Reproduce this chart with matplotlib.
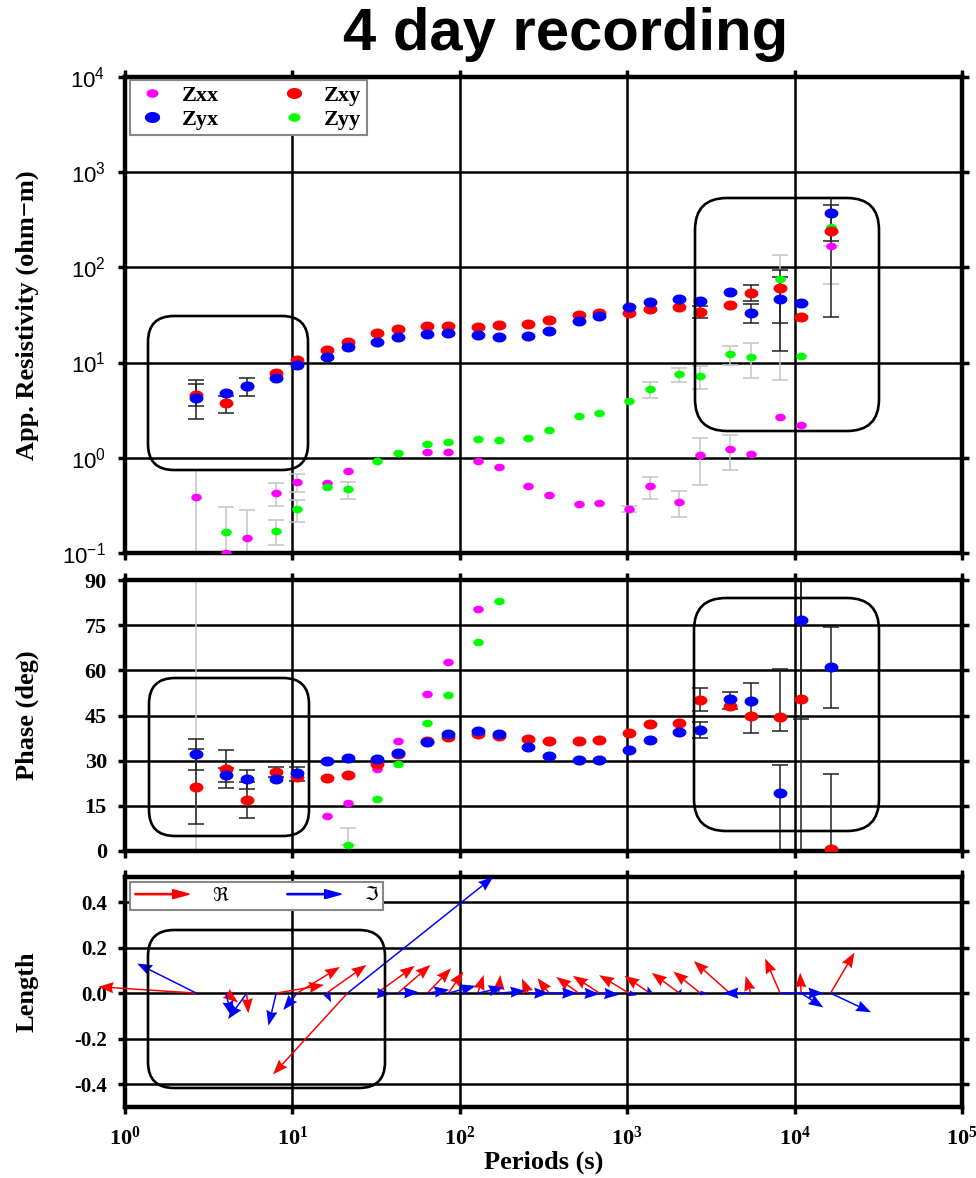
import numpy as np
import matplotlib
matplotlib.use('Agg')
import matplotlib.pyplot as plt
from matplotlib.patches import FancyBboxPatch, FancyArrow
from matplotlib.legend_handler import HandlerBase
from matplotlib.lines import Line2D
from matplotlib.transforms import IdentityTransform
from matplotlib.ticker import FixedLocator, FixedFormatter, NullLocator

N = np.nan

# ---------------- data ----------------
periods = [2.667, 4, 5.333, 8, 10.667, 16, 21.333, 32, 42.667, 64, 85.333, 128,
           170.667, 256, 341.333, 512, 682.667, 1024, 1365.333, 2048, 2730.667,
           4096, 5461.333, 8192, 10922.667, 16384]

# apparent resistivity (ohm-m)
rho_xx = [0.39, 0.10, 0.143, 0.425, 0.556, 0.542, 0.73, N, N, 1.15, 1.16, 0.915, 0.80,
          0.508, 0.406, 0.323, 0.331, 0.289, 0.50, 0.347, 1.075, 1.25, 1.10, 2.68, 2.22, 166]
rho_xy = [4.59, 3.76, 5.66, 7.76, 10.7, 13.4, 16.4, 20.4, 22.5, 24.0, 24.2, 23.4, 24.9,
          25.7, 27.7, 31.2, 32.8, 33.3, 36.1, 38.6, 33.6, 40.2, 54.1, 60.0, 29.8, 240]
rho_yx = [4.2, 4.78, 5.66, 6.87, 9.5, 11.4, 14.4, 16.4, 18.5, 19.9, 20.4, 19.3, 18.7,
          18.8, 21.6, 27.3, 31.0, 37.9, 43.2, 46.0, 44.6, 55.4, 33.1, 46.8, 41.8, 372]
rho_yy = [N, 0.168, N, 0.172, 0.289, 0.49, 0.469, 0.93, 1.11, 1.40, 1.46, 1.57, 1.53,
          1.63, 1.98, 2.72, 2.95, 3.94, 5.27, 7.57, 7.21, 12.3, 11.4, 75.4, 11.6, 263]

# resistivity error limits (lower, upper)
rho_xy_lo = [3.46, 2.92, 4.5, N, N, N, N, N, N, N, N, N, N, N, N, N, N, N, N, N, 29.3, N, 43.8, 26.0, N, 30.0]
rho_xy_hi = [6.5, 4.5, 6.8, N, N, N, N, N, N, N, N, N, N, N, N, N, N, N, N, N, 38.8, N, 65.2, 94.4, N, 455]
rho_yx_lo = [2.58, N, N, N, N, N, N, N, N, N, N, N, N, N, N, N, N, N, N, N, N, N, 26.0, 13.1, N, 191]
rho_yx_hi = [6.0, N, N, N, N, N, N, N, N, N, N, N, N, N, N, N, N, N, N, N, N, N, 41.5, 80.0, N, 536]
rho_xx_lo = [0.02, N, 0.02, 0.31, 0.44, N, N, N, N, N, N, N, N, N, N, N, N, 0.27, 0.37, 0.24, 0.52, 0.74, N, N, N, 66.6]
rho_xx_hi = [0.735, N, 0.28, 0.54, 0.68, N, N, N, N, N, N, N, N, N, N, N, N, 0.31, 0.63, 0.45, 1.63, 1.73, N, N, N, 166]
rho_yy_lo = [N, 0.02, N, 0.12, 0.21, N, 0.37, N, N, N, N, N, N, N, N, N, N, N, 4.2, 6.3, 5.3, 9.5, 6.9, 6.6, N, N]
rho_yy_hi = [N, 0.303, N, 0.223, 0.36, N, 0.56, N, N, N, N, N, N, N, N, N, N, N, 6.3, 8.7, 9.1, 15.1, 16.0, 135, N, N]

# phase (deg)
phi_xx = [-20, N, N, N, N, 11.6, 16.1, 27.1, 36.5, 52.2, 62.9, 80.3, N,
          N, N, N, N, N, N, N, N, N, N, N, N, N]
phi_xy = [21.4, 27.2, 17.0, 26.3, 24.7, 24.4, 25.4, 28.9, 32.1, 36.5, 37.9, 39.0, 38.3,
          37.3, 36.7, 36.6, 37.0, 39.3, 42.2, 42.4, 50.2, 48.0, 44.9, 44.5, 50.5, 0.5]
phi_yx = [32.1, 25.2, 23.8, 23.8, 25.8, 29.9, 30.8, 30.6, 32.7, 36.3, 39.0, 40.0, 38.7,
          34.4, 31.5, 30.2, 30.2, 33.4, 36.9, 39.4, 40.2, 50.5, 49.8, 19.2, 76.6, 61.2]
phi_yy = [N, N, N, N, N, N, 2.0, 17.4, 28.9, 42.5, 51.8, 69.4, 82.9,
          N, N, N, N, N, N, N, N, N, N, N, N, N]

phi_xy_lo = [9.0, 21.0, 11.0, 24.5, N, N, N, N, N, N, N, N, N, N, N, N, N, N, N, N, 46.4, N, 39.1, 39.7, 43.9, -30]
phi_xy_hi = [33.8, 33.5, 23.0, 28.0, N, N, N, N, N, N, N, N, N, N, N, N, N, N, N, N, 54.0, N, 55.9, 60.6, 120, 25.6]
phi_yx_lo = [26.9, 23.0, 20.7, N, 23.2, N, N, N, N, N, N, N, N, N, N, N, N, N, N, N, 37.6, 47.0, N, -30, -30, 47.6]
phi_yx_hi = [37.2, 27.5, 26.9, N, 28.0, N, N, N, N, N, N, N, N, N, N, N, N, N, N, N, 42.7, 52.9, N, 28.5, 120, 74.5]
phi_xx_lo = [-120, N, N, N, N, N, N, N, N, N, N, N, N, N, N, N, N, N, N, N, N, N, N, N, N, N]
phi_xx_hi = [200, N, N, N, N, N, N, N, N, N, N, N, N, N, N, N, N, N, N, N, N, N, N, N, N, N]
phi_yy_lo = [N, N, N, N, N, N, 2.0, N, N, N, N, N, N, N, N, N, N, N, N, N, N, N, N, N, N, N]
phi_yy_hi = [N, N, N, N, N, N, 7.7, N, N, N, N, N, N, N, N, N, N, N, N, N, N, N, N, N, N, N]

# induction arrows (real and imaginary components)
re_x = [-0.43, 0.054, 0.007, 0.21, 0.188, 0.175, -0.327, 0.166, 0.143, 0.104, 0.066, 0.026, 0.007,
        -0.027, -0.051, -0.098, -0.117, -0.131, -0.112, -0.121, -0.118, -0.158, -0.022, -0.066, -0.004, 0.105]
re_y = [0.028, -0.041, -0.089, 0.036, 0.115, 0.124, -0.357, 0.12, 0.124, 0.109, 0.095, 0.08, 0.08,
        0.064, 0.066, 0.071, 0.076, 0.079, 0.076, 0.089, 0.095, 0.141, 0.076, 0.152, 0.09, 0.178]
im_x = [-0.26, 0.025, -0.082, -0.034, -0.061, 0.02, 0.64, 0.06, 0.092, 0.096, 0.12, 0.114, 0.117,
        0.092, 0.123, 0.092, 0.087, 0.035, -0.01, 0.01, 0.03, -0.03, -0.12, 0.19, 0.098, 0.178]
im_y = [0.13, -0.1, -0.114, -0.143, -0.074, -0.04, 0.51, -0.005, 0.004, 0.015, 0.032, 0.025, 0.01,
        0.0, 0.0, -0.004, -0.007, -0.01, 0.03, 0.02, 0.0, 0.0, 0.0, 0.0, -0.063, -0.084]

labels = ['Zxx', 'Zxy', 'Zyx', 'Zyy']
colors = {'Zxx': '#ff00ff', 'Zxy': '#ff0000', 'Zyx': '#0000ff', 'Zyy': '#00ff00'}

# ---------------- style ----------------
plt.rcParams['font.family'] = ['Liberation Serif', 'DejaVu Sans']
plt.rcParams['mathtext.fontset'] = 'custom'
plt.rcParams['mathtext.bf'] = 'Liberation Serif:bold'
plt.rcParams['mathtext.rm'] = 'Liberation Serif'
plt.rcParams['mathtext.sf'] = 'Liberation Sans'

W, H = 976, 1178
fig = plt.figure(figsize=(W / 100, H / 100), dpi=100)
ax1 = fig.add_axes([0.1281, 0.5306, 0.8576, 0.4041])
ax2 = fig.add_axes([0.1281, 0.2776, 0.8576, 0.2300])
ax3 = fig.add_axes([0.1281, 0.0603, 0.8576, 0.1952])

xt = [1, 10, 100, 1e3, 1e4, 1e5]
for ax in (ax1, ax2, ax3):
    ax.set_xscale('log')
    ax.set_xlim(1, 1e5)
    ax.xaxis.set_major_locator(FixedLocator(xt))
    ax.xaxis.set_minor_locator(NullLocator())
    ax.grid(True, which='major', color='black', lw=1.8)
    ax.set_axisbelow(True)
    for s in ax.spines.values():
        s.set_linewidth(3.2)
    ax.tick_params(which='major', direction='out', length=5, width=2.5,
                   top=True, right=True)
    ax.tick_params(which='minor', length=0)

t = np.linspace(0, 2 * np.pi, 48)
ell = np.column_stack([np.cos(t), 0.72 * np.sin(t)])
P = np.asarray(periods)
BIG, SMALL = 10.0, 7.6


def errs(ax, y, lo, hi, color):
    y = np.asarray(y, float); lo = np.asarray(lo, float); hi = np.asarray(hi, float)
    m = ~np.isnan(lo)
    ax.errorbar(P[m], y[m], yerr=[y[m] - lo[m], hi[m] - y[m]], fmt='none',
                ecolor=color, elinewidth=1.1, capsize=5.5, capthick=1.1, zorder=2)


def pts(ax, y, name, big):
    ax.plot(P, y, ls='none', marker=ell, ms=BIG if big else SMALL,
            mfc=colors[name], mec='none', zorder=3)

# ---- apparent resistivity ----
ax1.set_yscale('log')
ax1.set_ylim(0.1, 1e4)
ax1.yaxis.set_major_locator(FixedLocator([0.1, 1, 10, 100, 1e3, 1e4]))
ax1.yaxis.set_minor_locator(NullLocator())
ax1.yaxis.set_major_formatter(FixedFormatter([r'$\mathsf{10^{-1}}$', r'$\mathsf{10^{0}}$',
                                              r'$\mathsf{10^{1}}$', r'$\mathsf{10^{2}}$',
                                              r'$\mathsf{10^{3}}$', r'$\mathsf{10^{4}}$']))
ax1.tick_params(axis='y', labelsize=16, pad=9)
ax1.tick_params(axis='x', labelbottom=False)
errs(ax1, rho_xx, rho_xx_lo, rho_xx_hi, '#c4c4c4')
errs(ax1, rho_yy, rho_yy_lo, rho_yy_hi, '#c4c4c4')
errs(ax1, rho_xy, rho_xy_lo, rho_xy_hi, '#222222')
errs(ax1, rho_yx, rho_yx_lo, rho_yx_hi, '#222222')
pts(ax1, rho_xx, 'Zxx', False)
pts(ax1, rho_yy, 'Zyy', False)
pts(ax1, rho_xy, 'Zxy', True)
pts(ax1, rho_yx, 'Zyx', True)
ax1.set_ylabel('App. Resistivity (ohm\u2212m)', fontsize=19, fontweight='bold')
ax1.yaxis.set_label_coords(-0.103, 0.5)

hd = [Line2D([], [], ls='none', marker=ell, ms=SMALL + 1, mfc=colors['Zxx'], mec='none'),
      Line2D([], [], ls='none', marker=ell, ms=BIG + 1, mfc=colors['Zyx'], mec='none'),
      Line2D([], [], ls='none', marker=ell, ms=BIG + 1, mfc=colors['Zxy'], mec='none'),
      Line2D([], [], ls='none', marker=ell, ms=SMALL + 1, mfc=colors['Zyy'], mec='none')]
leg1 = ax1.legend(hd, ['Zxx', 'Zyx', 'Zxy', 'Zyy'], ncol=2, loc='upper left',
                  bbox_to_anchor=(0.006, 0.994), fancybox=False, framealpha=1,
                  edgecolor='#888888', prop={'weight': 'bold', 'size': 16},
                  handlelength=1.5, handletextpad=0.6, columnspacing=2.6,
                  borderpad=0.25, labelspacing=0.15, borderaxespad=0)
leg1.get_frame().set_linewidth(1.5)
leg1.set_zorder(6)

# ---- phase ----
ax2.set_ylim(0, 90)
ax2.yaxis.set_major_locator(FixedLocator([0, 15, 30, 45, 60, 75, 90]))
ax2.tick_params(axis='y', labelsize=16, pad=8)
ax2.tick_params(axis='x', labelbottom=False)
for lab in ax2.get_yticklabels():
    lab.set_fontweight('bold')
errs(ax2, phi_xx, phi_xx_lo, phi_xx_hi, '#c4c4c4')
errs(ax2, phi_yy, phi_yy_lo, phi_yy_hi, '#c4c4c4')
errs(ax2, phi_xy, phi_xy_lo, phi_xy_hi, '#222222')
errs(ax2, phi_yx, phi_yx_lo, phi_yx_hi, '#222222')
pts(ax2, phi_xx, 'Zxx', False)
pts(ax2, phi_yy, 'Zyy', False)
pts(ax2, phi_xy, 'Zxy', True)
pts(ax2, phi_yx, 'Zyx', True)
ax2.set_ylabel('Phase (deg)', fontsize=19, fontweight='bold')
ax2.yaxis.set_label_coords(-0.103, 0.5)

# ---- induction arrows ----
ax3.set_ylim(-0.5, 0.51)
ax3.yaxis.set_major_locator(FixedLocator([-0.4, -0.2, 0, 0.2, 0.4]))
ax3.yaxis.set_major_formatter(FixedFormatter(['-0.4', '-0.2', '0.0', '0.2', '0.4']))
ax3.tick_params(axis='y', labelsize=15, pad=8)
for lab in ax3.get_yticklabels():
    lab.set_fontweight('bold')
ax3.xaxis.set_major_formatter(FixedFormatter([r'$\mathbf{10^{%d}}$' % i for i in range(6)]))
ax3.tick_params(axis='x', labelsize=16, pad=9)
ppu = ax3.transData.transform((1, 1))[1] - ax3.transData.transform((1, 0))[1]
qk = dict(angles='uv', units='dots', scale_units='dots', scale=1.0 / ppu, width=1.5,
          headwidth=7.5, headlength=10, headaxislength=9, zorder=4, clip_on=False)
ax3.quiver(P, np.zeros(len(P)), re_x, re_y, color='#ff0000', **qk)
ax3.quiver(P, np.zeros(len(P)), im_x, im_y, color='#0000ff', **qk)
ax3.set_ylabel('Length', fontsize=19, fontweight='bold')
ax3.yaxis.set_label_coords(-0.103, 0.5)
ax3.set_xlabel('Periods (s)', fontsize=19, fontweight='bold')
ax3.xaxis.set_label_coords(0.5, -0.19)


class ArrowHandler(HandlerBase):
    def create_artists(self, legend, orig_handle, xdescent, ydescent, width, height,
                       fontsize, trans):
        a = FancyArrow(-xdescent, height / 2 - ydescent, width, 0, width=0.9,
                       head_width=6.5, head_length=12, length_includes_head=True,
                       color=orig_handle.get_color(), transform=trans)
        return [a]


ah = [Line2D([], [], color='#ff0000'), Line2D([], [], color='#0000ff')]
leg3 = ax3.legend(ah, ['\u211c', '\u2111'], ncol=2, loc='upper left',
                  bbox_to_anchor=(0.006, 0.978), fancybox=False, framealpha=1,
                  edgecolor='#888888', handler_map={Line2D: ArrowHandler()},
                  prop={'family': ['DejaVu Serif', 'DejaVu Sans'], 'size': 14},
                  handlelength=2.8, handletextpad=1.2, columnspacing=3.0,
                  borderpad=0.25, borderaxespad=0)
leg3.get_frame().set_linewidth(1.5)
leg3.set_zorder(6)

# ---- rounded highlight boxes (pixel coordinates of the figure) ----
boxes = [(148, 316, 308, 470, 26), (695, 198, 879, 431, 32),
         (149, 678, 309, 836, 26), (694, 598, 879, 831, 32),
         (148, 930, 385, 1088, 26)]
for x0, y0, x1, y1, r in boxes:
    p = FancyBboxPatch((x0, H - y1), x1 - x0, y1 - y0,
                       boxstyle='round,pad=0,rounding_size=%d' % r,
                       fc='none', ec='black', lw=1.9, transform=IdentityTransform(),
                       zorder=5)
    fig.patches.append(p)

fig.text(566 / W, 1 - 35 / H, '4 day recording', ha='center', va='center',
         fontsize=43, fontweight='bold', family=['Liberation Sans', 'DejaVu Sans'])

fig.savefig('out.png', dpi=100)
